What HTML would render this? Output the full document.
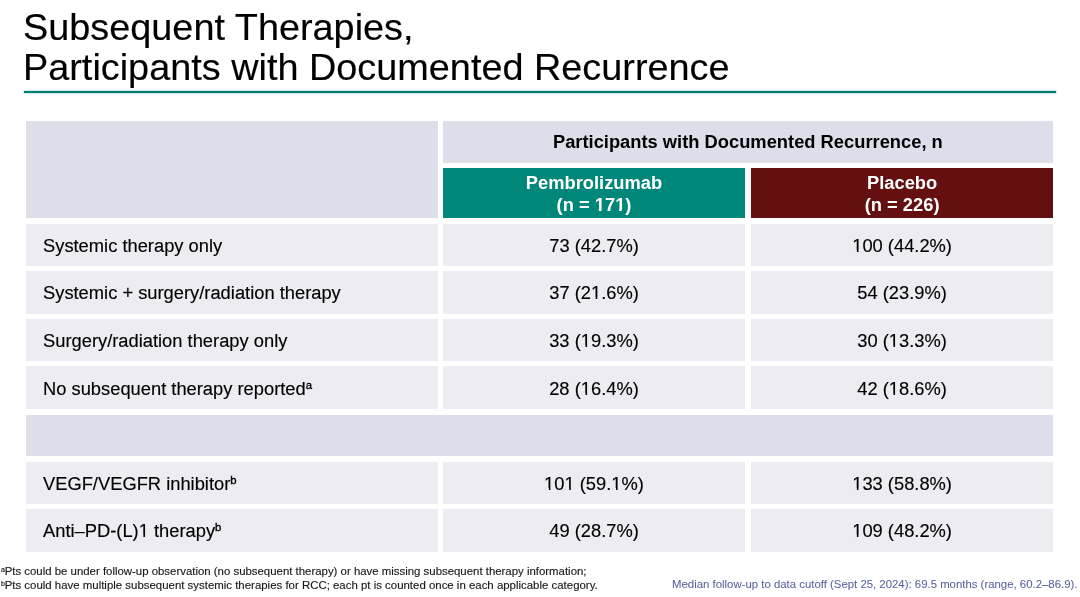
<!DOCTYPE html>
<html>
<head>
<meta charset="utf-8">
<title>Subsequent Therapies, Participants with Documented Recurrence</title>
<style>
html,body{margin:0;padding:0;background:#fff;}
body{width:1080px;height:597px;position:relative;overflow:hidden;font-family:"Liberation Sans",Arial,sans-serif;color:#000;}
.b{position:absolute;}
.t{position:absolute;white-space:nowrap;line-height:1;transform:scaleX(1.0176);transform-origin:0 0;will-change:transform;-webkit-text-stroke:0.15px currentColor;}
.c{text-align:center;transform-origin:50% 0;}
.f18{font-size:18px;}
.bold{font-weight:bold;-webkit-text-stroke:0;}
.w{color:#fff;}
.hd{background:#dcdfea;}
.rw{background:#ececf2;}
sup{font-size:0.62em;line-height:0;vertical-align:0.6em;}
.f18 sup{vertical-align:0.55em;-webkit-text-stroke:0.35px currentColor;}
.o{position:relative;--bg:#ececf2;--fg:#000;}
.o::before,.o::after{content:"";position:absolute;left:0.04em;width:0.52em;}
.o::before{top:0.79em;height:0.115em;background:linear-gradient(90deg,var(--bg) 35.34%,var(--fg) 46.02%,var(--fg) 52.31%,var(--bg) 62.99%);}
.o::after{top:0.905em;height:0.06em;background:var(--bg);}
.bold .o{--bg:#00877a;--fg:#fff;}
.bold .o::before{top:0.77em;height:0.135em;background:linear-gradient(90deg,var(--bg) 31.85%,var(--fg) 42.53%,var(--fg) 58.24%,var(--bg) 68.92%);}
.fn{font-size:11.2px;color:#1a1a1a;}
.fn sup{vertical-align:0.48em;margin-right:-0.3px;}
</style>
</head>
<body>
<div class="t" style="left:23.2px;top:9.91px;font-size:36.6px;transform:scaleX(1.0343);">Subsequent Therapies,</div>
<div class="t" style="left:23.2px;top:49.71px;font-size:36.6px;transform:scaleX(1.0343);">Participants with Documented Recurrence</div>
<div class="b" style="left:24px;top:91px;width:1032px;height:2px;background:#007b71;box-shadow:0 0 1.2px 0.3px rgba(0,123,113,.5);"></div>
<div class="b hd" style="left:26.0px;top:120.5px;width:411.6px;height:97.7px;"></div>
<div class="b hd" style="left:443.3px;top:120.5px;width:609.7px;height:42.4px;"></div>
<div class="b " style="left:443.3px;top:167.9px;width:302.0px;height:50.3px;background:#00877a;"></div>
<div class="b " style="left:750.8px;top:167.9px;width:302.2px;height:50.3px;background:#651010;"></div>
<div class="t c f18 bold" style="left:443.3px;width:609.7px;top:133.0px;">Participants with Documented Recurrence, n</div>
<div class="t c f18 bold w" style="left:443.3px;width:302.0px;top:173.8px;">Pembrolizumab</div>
<div class="t c f18 bold w" style="left:443.3px;width:302.0px;top:195.8px;">(n = <span class="o">1</span>7<span class="o">1</span>)</div>
<div class="t c f18 bold w" style="left:750.8px;width:302.2px;top:173.8px;">Placebo</div>
<div class="t c f18 bold w" style="left:750.8px;width:302.2px;top:195.8px;">(n = 226)</div>
<div class="b rw" style="left:26.0px;top:223.6px;width:411.6px;height:42.4px;"></div>
<div class="b rw" style="left:443.3px;top:223.6px;width:302.0px;height:42.4px;"></div>
<div class="b rw" style="left:750.8px;top:223.6px;width:302.2px;height:42.4px;"></div>
<div class="b rw" style="left:26.0px;top:270.8px;width:411.6px;height:43.0px;"></div>
<div class="b rw" style="left:443.3px;top:270.8px;width:302.0px;height:43.0px;"></div>
<div class="b rw" style="left:750.8px;top:270.8px;width:302.2px;height:43.0px;"></div>
<div class="b rw" style="left:26.0px;top:318.9px;width:411.6px;height:42.3px;"></div>
<div class="b rw" style="left:443.3px;top:318.9px;width:302.0px;height:42.3px;"></div>
<div class="b rw" style="left:750.8px;top:318.9px;width:302.2px;height:42.3px;"></div>
<div class="b rw" style="left:26.0px;top:366.4px;width:411.6px;height:42.4px;"></div>
<div class="b rw" style="left:443.3px;top:366.4px;width:302.0px;height:42.4px;"></div>
<div class="b rw" style="left:750.8px;top:366.4px;width:302.2px;height:42.4px;"></div>
<div class="b hd" style="left:26.0px;top:414.5px;width:1027.0px;height:41.5px;"></div>
<div class="b rw" style="left:26.0px;top:461.9px;width:411.6px;height:42.1px;"></div>
<div class="b rw" style="left:443.3px;top:461.9px;width:302.0px;height:42.1px;"></div>
<div class="b rw" style="left:750.8px;top:461.9px;width:302.2px;height:42.1px;"></div>
<div class="b rw" style="left:26.0px;top:509.4px;width:411.6px;height:42.6px;"></div>
<div class="b rw" style="left:443.3px;top:509.4px;width:302.0px;height:42.6px;"></div>
<div class="b rw" style="left:750.8px;top:509.4px;width:302.2px;height:42.6px;"></div>
<div class="t f18" style="left:42.5px;top:237.1px;">Systemic therapy only</div>
<div class="t c f18" style="left:443.3px;width:302.0px;top:237.1px;">73 (42.7%)</div>
<div class="t c f18" style="left:750.8px;width:302.2px;top:237.1px;"><span class="o">1</span>00 (44.2%)</div>
<div class="t f18" style="left:42.5px;top:284.1px;">Systemic + surgery/radiation therapy</div>
<div class="t c f18" style="left:443.3px;width:302.0px;top:284.1px;">37 (2<span class="o">1</span>.6%)</div>
<div class="t c f18" style="left:750.8px;width:302.2px;top:284.1px;">54 (23.9%)</div>
<div class="t f18" style="left:42.5px;top:332.3px;">Surgery/radiation therapy only</div>
<div class="t c f18" style="left:443.3px;width:302.0px;top:332.3px;">33 (<span class="o">1</span>9.3%)</div>
<div class="t c f18" style="left:750.8px;width:302.2px;top:332.3px;">30 (<span class="o">1</span>3.3%)</div>
<div class="t f18" style="left:42.5px;top:379.9px;">No subsequent therapy reported<sup>a</sup></div>
<div class="t c f18" style="left:443.3px;width:302.0px;top:379.9px;">28 (<span class="o">1</span>6.4%)</div>
<div class="t c f18" style="left:750.8px;width:302.2px;top:379.9px;">42 (<span class="o">1</span>8.6%)</div>
<div class="t f18" style="left:42.5px;top:475.2px;">VEGF/VEGFR inhibitor<sup>b</sup></div>
<div class="t c f18" style="left:443.3px;width:302.0px;top:475.2px;"><span class="o">1</span>0<span class="o">1</span> (59.<span class="o">1</span>%)</div>
<div class="t c f18" style="left:750.8px;width:302.2px;top:475.2px;"><span class="o">1</span>33 (58.8%)</div>
<div class="t f18" style="left:42.5px;top:522.2px;">Anti–PD-(L)<span class="o">1</span> therapy<sup>b</sup></div>
<div class="t c f18" style="left:443.3px;width:302.0px;top:522.2px;">49 (28.7%)</div>
<div class="t c f18" style="left:750.8px;width:302.2px;top:522.2px;"><span class="o">1</span>09 (48.2%)</div>
<div class="t fn" style="left:1px;top:566.2px;transform:scaleX(1.0192);"><sup>a</sup>Pts could be under follow-up observation (no subsequent therapy) or have missing subsequent therapy information;</div>
<div class="t fn" style="left:1px;top:580.1px;transform:scaleX(1.0214);"><sup>b</sup>Pts could have multiple subsequent systemic therapies for RCC; each pt is counted once in each applicable category.</div>
<div class="t" style="left:672px;top:579.3px;font-size:11.2px;color:#5a609e;-webkit-text-stroke:0.05px #5a609e;">Median follow-up to data cutoff (Sept 25, 2024): 69.5 months (range, 60.2–86.9).</div>
</body>
</html>
